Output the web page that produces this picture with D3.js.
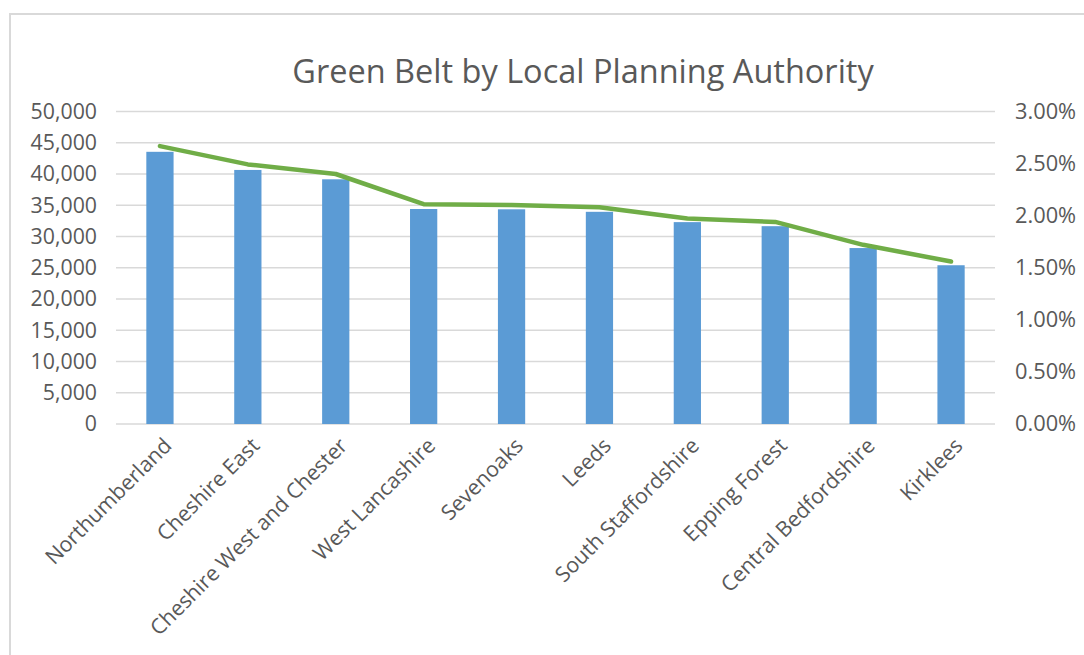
<!DOCTYPE html>
<html>
<head>
<meta charset="utf-8">
<script src="https://cdn.jsdelivr.net/npm/d3@7"></script>
<style>
  body { margin: 0; background: #fff; }
  text { font-family: "Open Sans", sans-serif; fill: #595959; }
</style>
</head>
<body>
<div id="chart"></div>
<script>
var authorities = ["Northumberland", "Cheshire East", "Cheshire West and Chester", "West Lancashire",
  "Sevenoaks", "Leeds", "South Staffordshire", "Epping Forest", "Central Bedfordshire", "Kirklees"];
var greenBelt = [43550, 40650, 39150, 34400, 34350, 33950, 32300, 31650, 28150, 25400];
var share = [0.02668, 0.02492, 0.02400, 0.02110, 0.02102, 0.02080, 0.01972, 0.01940, 0.01720, 0.01560];
var leftTicks = [0, 5000, 10000, 15000, 20000, 25000, 30000, 35000, 40000, 45000, 50000];
var rightTicks = [0, 0.005, 0.01, 0.015, 0.02, 0.025, 0.03];

var width = 1084,
    height = 655;

var margin = { top: 111.5, right: 89, bottom: 231, left: 116 };

var svg = d3.select("#chart").append("svg")
    .attr("width", width)
    .attr("height", height);

// chart frame (only top and left edges show)
svg.append("rect")
    .attr("x", 10).attr("y", 14)
    .attr("width", 1200).attr("height", 800)
    .attr("fill", "#fff")
    .attr("stroke", "#D9D9D9")
    .attr("stroke-width", 2);

svg.append("text")
    .attr("x", 583)
    .attr("y", 83)
    .attr("text-anchor", "middle")
    .style("font-size", "32.5px")
    .text("Green Belt by Local Planning Authority");

var x = d3.scaleBand()
    .domain(authorities)
    .range([margin.left, width - margin.right])
    .paddingInner(0.69)
    .paddingOuter(0.345);

var y = d3.scaleLinear()
    .domain([0, 50000])
    .range([height - margin.bottom, margin.top]);

var y2 = d3.scaleLinear()
    .domain([0, 0.03])
    .range([height - margin.bottom, margin.top]);

// gridlines
svg.append("g")
    .selectAll("line")
    .data(leftTicks)
    .enter().append("line")
      .attr("x1", margin.left)
      .attr("x2", width - margin.right)
      .attr("y1", function(d) { return y(d); })
      .attr("y2", function(d) { return y(d); })
      .attr("stroke", "#D9D9D9")
      .attr("stroke-width", 1.5);

var left = svg.append("g")
    .attr("transform", "translate(" + (margin.left - 19) + ",0)")
    .call(d3.axisLeft(y).tickValues(leftTicks).tickSize(0).tickPadding(0).tickFormat(d3.format(",")));
left.select(".domain").remove();
left.selectAll("text").style("font-size", "21.3px");

var right = svg.append("g")
    .attr("transform", "translate(" + (width - margin.right + 20) + ",0)")
    .call(d3.axisRight(y2).tickValues(rightTicks).tickSize(0).tickPadding(0).tickFormat(d3.format(".2%")));
right.select(".domain").remove();
right.selectAll("text").style("font-size", "21.8px");

svg.append("g")
    .selectAll("rect")
    .data(greenBelt)
    .enter().append("rect")
      .attr("x", function(d, i) { return x(authorities[i]); })
      .attr("y", function(d) { return y(d); })
      .attr("width", x.bandwidth())
      .attr("height", function(d) { return y(0) - y(d); })
      .attr("fill", "#5B9BD5");

var line = d3.line()
    .x(function(d, i) { return x(authorities[i]) + x.bandwidth() / 2; })
    .y(function(d) { return y2(d); });

svg.append("path")
    .datum(share)
    .attr("fill", "none")
    .attr("stroke", "#70AD47")
    .attr("stroke-width", 4.5)
    .attr("stroke-linejoin", "round")
    .attr("stroke-linecap", "round")
    .attr("d", line);

var bottom = svg.append("g")
    .attr("transform", "translate(0," + (height - margin.bottom) + ")")
    .call(d3.axisBottom(x).tickSize(0).tickPadding(0));
bottom.select(".domain").remove();
bottom.selectAll("text")
    .style("font-size", "21.3px")
    .attr("text-anchor", "end")
    .attr("dy", null)
    .attr("y", 0)
    .attr("transform", "translate(13,23) rotate(-45)");
</script>
</body>
</html>
